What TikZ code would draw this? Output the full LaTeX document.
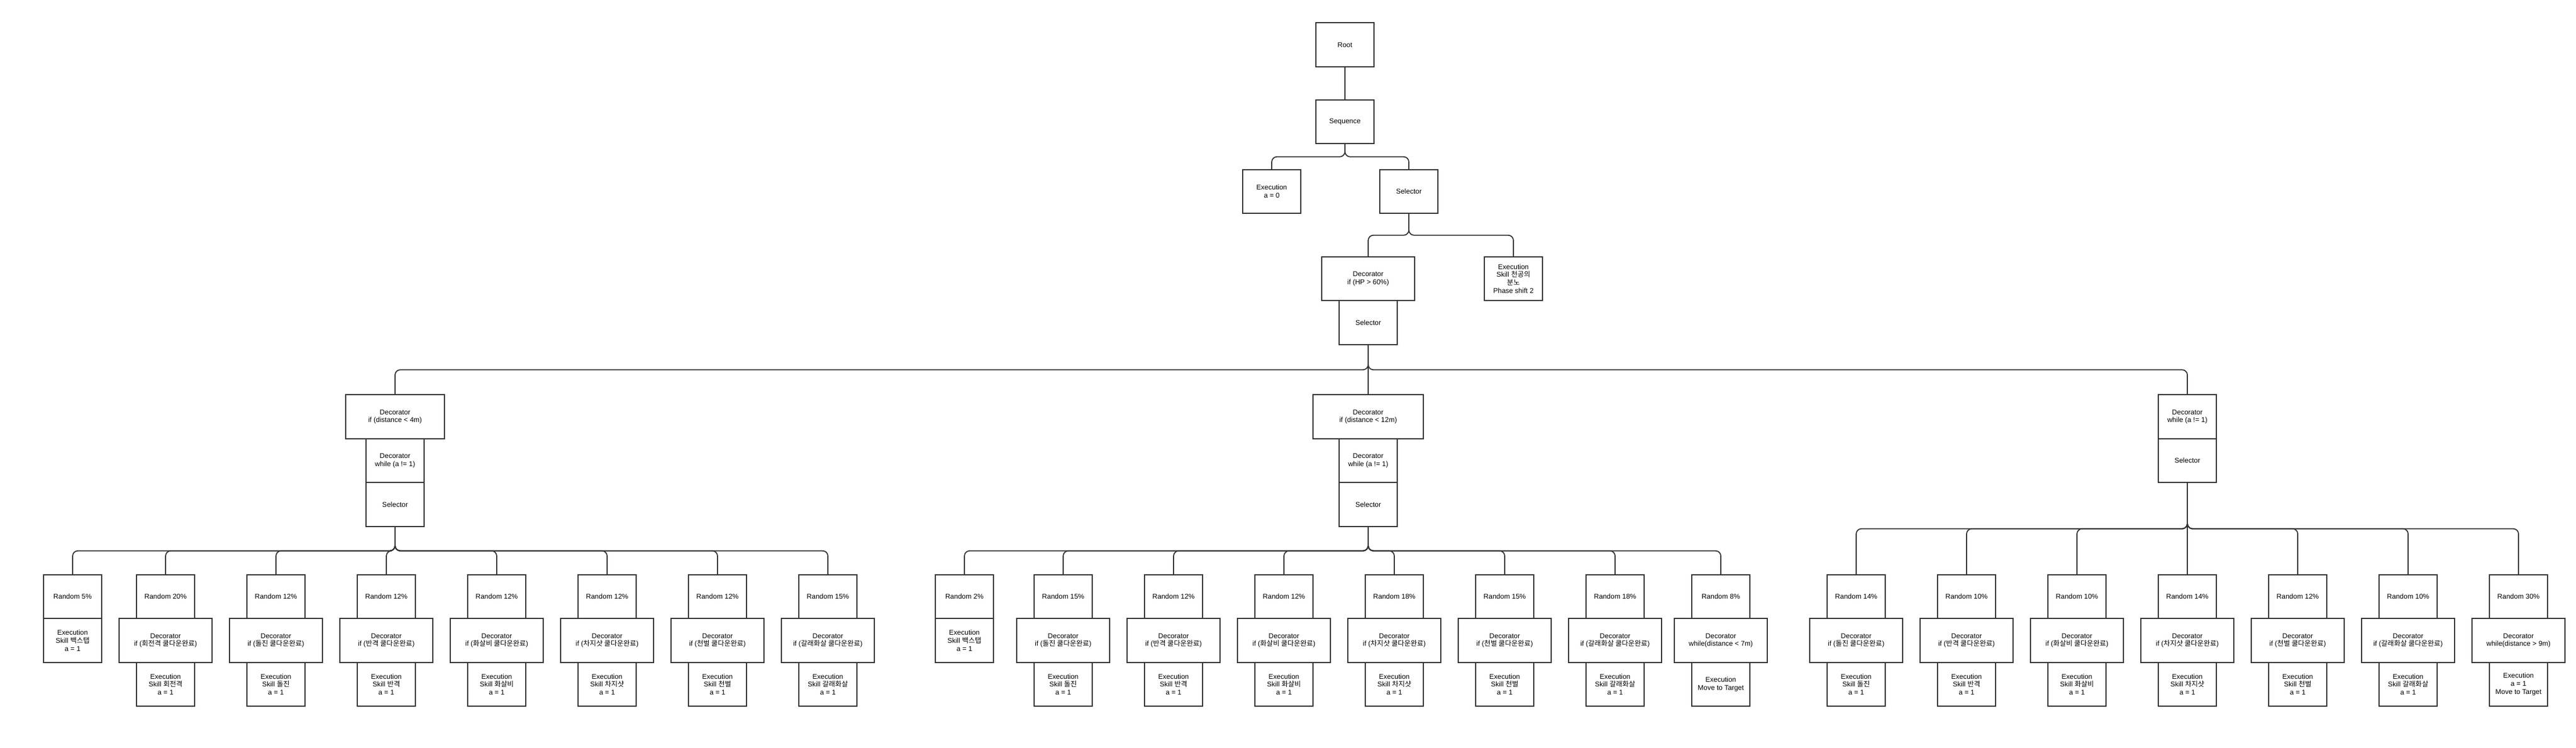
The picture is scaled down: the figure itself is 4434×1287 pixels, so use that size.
\documentclass[tikz,border=0pt]{standalone}
\usepackage{fontspec}
\setmainfont{Liberation Sans}
\newfontfamily\kr{Noto Sans CJK KR}
\usetikzlibrary{positioning}

\tikzset{
	bnode/.style={draw=black!80, fill=white, line width=1.8pt, outer sep=0pt, inner sep=0pt,
		minimum width=100pt, minimum height=75.5pt, align=center, font=\fontsize{12}{13.7}\selectfont},
	wnode/.style={bnode, minimum width=160pt},
	conn/.style={draw=black!80, line width=1.8pt, rounded corners=9pt},
}

\begin{document}
\begin{tikzpicture}[x=1pt,y=-1pt]
	\useasboundingbox (0,0) rectangle (4434,1287);
	% top of the tree
	\node[bnode] (root) at (2315,77) {Root};
	\node[bnode] (seq) at (2315,209.5) {Sequence};
	\node[bnode] (exe0) at (2189,329.5) {Execution\\a = 0};
	\node[bnode] (sel) at (2425,329.5) {Selector};
	\node[wnode] (dhp) at (2355,479.5) {Decorator\\if (HP > 60\%)};
	\node[bnode] (exeph) at (2605,479.5) {Execution\\Skill {\kr 천공의}\\{\kr 분노}\\Phase shift 2};
	\node[bnode, below=0pt of dhp] (sel2) {Selector};

	% distance branches
	\node[bnode, minimum width=170pt] (decL) at (680,717) {Decorator\\if (distance < 4m)};
	\node[bnode, below=0pt of decL] (whileL) {Decorator\\while (a != 1)};
	\node[bnode, below=0pt of whileL] (selL) {Selector};
	\node[bnode, minimum width=190pt] (decM) at (2355,717) {Decorator\\if (distance < 12m)};
	\node[bnode, below=0pt of decM] (whileM) {Decorator\\while (a != 1)};
	\node[bnode, below=0pt of whileM] (selM) {Selector};
	\node[bnode] (decR) at (3765,717) {Decorator\\while (a != 1)};
	\node[bnode, below=0pt of decR] (selR) {Selector};

	% left: distance < 4m
	\node[bnode] (lr1) at (125,1026.5) {Random 5\%};
	\node[bnode, below=0pt of lr1] (le1) {Execution\\Skill {\kr 백스탭}\\a = 1};
	\node[bnode] (lr2) at (285,1026.5) {Random 20\%};
	\node[wnode, below=0pt of lr2] (ld2) {Decorator\\if ({\kr 회전격 쿨다운완료})};
	\node[bnode, below=0pt of ld2] (le2) {Execution\\Skill {\kr 회전격}\\a = 1};
	\node[bnode] (lr3) at (475,1026.5) {Random 12\%};
	\node[wnode, below=0pt of lr3] (ld3) {Decorator\\if ({\kr 돌진 쿨다운완료})};
	\node[bnode, below=0pt of ld3] (le3) {Execution\\Skill {\kr 돌진}\\a = 1};
	\node[bnode] (lr4) at (665,1026.5) {Random 12\%};
	\node[wnode, below=0pt of lr4] (ld4) {Decorator\\if ({\kr 반격 쿨다운완료})};
	\node[bnode, below=0pt of ld4] (le4) {Execution\\Skill {\kr 반격}\\a = 1};
	\node[bnode] (lr5) at (855,1026.5) {Random 12\%};
	\node[wnode, below=0pt of lr5] (ld5) {Decorator\\if ({\kr 화살비 쿨다운완료})};
	\node[bnode, below=0pt of ld5] (le5) {Execution\\Skill {\kr 화살비}\\a = 1};
	\node[bnode] (lr6) at (1045,1026.5) {Random 12\%};
	\node[wnode, below=0pt of lr6] (ld6) {Decorator\\if ({\kr 차지샷 쿨다운완료})};
	\node[bnode, below=0pt of ld6] (le6) {Execution\\Skill {\kr 차지샷}\\a = 1};
	\node[bnode] (lr7) at (1235,1026.5) {Random 12\%};
	\node[wnode, below=0pt of lr7] (ld7) {Decorator\\if ({\kr 천벌 쿨다운완료})};
	\node[bnode, below=0pt of ld7] (le7) {Execution\\Skill {\kr 천벌}\\a = 1};
	\node[bnode] (lr8) at (1425,1026.5) {Random 15\%};
	\node[wnode, below=0pt of lr8] (ld8) {Decorator\\if ({\kr 갈래화살 쿨다운완료})};
	\node[bnode, below=0pt of ld8] (le8) {Execution\\Skill {\kr 갈래화살}\\a = 1};

	% middle: distance < 12m
	\node[bnode] (mr1) at (1660,1026.5) {Random 2\%};
	\node[bnode, below=0pt of mr1] (me1) {Execution\\Skill {\kr 백스탭}\\a = 1};
	\node[bnode] (mr2) at (1830,1026.5) {Random 15\%};
	\node[wnode, below=0pt of mr2] (md2) {Decorator\\if ({\kr 돌진 쿨다운완료})};
	\node[bnode, below=0pt of md2] (me2) {Execution\\Skill {\kr 돌진}\\a = 1};
	\node[bnode] (mr3) at (2020,1026.5) {Random 12\%};
	\node[wnode, below=0pt of mr3] (md3) {Decorator\\if ({\kr 반격 쿨다운완료})};
	\node[bnode, below=0pt of md3] (me3) {Execution\\Skill {\kr 반격}\\a = 1};
	\node[bnode] (mr4) at (2210,1026.5) {Random 12\%};
	\node[wnode, below=0pt of mr4] (md4) {Decorator\\if ({\kr 화살비 쿨다운완료})};
	\node[bnode, below=0pt of md4] (me4) {Execution\\Skill {\kr 화살비}\\a = 1};
	\node[bnode] (mr5) at (2400,1026.5) {Random 18\%};
	\node[wnode, below=0pt of mr5] (md5) {Decorator\\if ({\kr 차지샷 쿨다운완료})};
	\node[bnode, below=0pt of md5] (me5) {Execution\\Skill {\kr 차지샷}\\a = 1};
	\node[bnode] (mr6) at (2590,1026.5) {Random 15\%};
	\node[wnode, below=0pt of mr6] (md6) {Decorator\\if ({\kr 천벌 쿨다운완료})};
	\node[bnode, below=0pt of md6] (me6) {Execution\\Skill {\kr 천벌}\\a = 1};
	\node[bnode] (mr7) at (2780,1026.5) {Random 18\%};
	\node[wnode, below=0pt of mr7] (md7) {Decorator\\if ({\kr 갈래화살 쿨다운완료})};
	\node[bnode, below=0pt of md7] (me7) {Execution\\Skill {\kr 갈래화살}\\a = 1};
	\node[bnode] (mr8) at (2962,1026.5) {Random 8\%};
	\node[wnode, below=0pt of mr8] (md8) {Decorator\\while(distance < 7m)};
	\node[bnode, below=0pt of md8] (me8) {Execution\\Move to Target};

	% right: otherwise
	\node[bnode] (rr1) at (3195,1026.5) {Random 14\%};
	\node[wnode, below=0pt of rr1] (rd1) {Decorator\\if ({\kr 돌진 쿨다운완료})};
	\node[bnode, below=0pt of rd1] (re1) {Execution\\Skill {\kr 돌진}\\a = 1};
	\node[bnode] (rr2) at (3385,1026.5) {Random 10\%};
	\node[wnode, below=0pt of rr2] (rd2) {Decorator\\if ({\kr 반격 쿨다운완료})};
	\node[bnode, below=0pt of rd2] (re2) {Execution\\Skill {\kr 반격}\\a = 1};
	\node[bnode] (rr3) at (3575,1026.5) {Random 10\%};
	\node[wnode, below=0pt of rr3] (rd3) {Decorator\\if ({\kr 화살비 쿨다운완료})};
	\node[bnode, below=0pt of rd3] (re3) {Execution\\Skill {\kr 화살비}\\a = 1};
	\node[bnode] (rr4) at (3765,1026.5) {Random 14\%};
	\node[wnode, below=0pt of rr4] (rd4) {Decorator\\if ({\kr 차지샷 쿨다운완료})};
	\node[bnode, below=0pt of rd4] (re4) {Execution\\Skill {\kr 차지샷}\\a = 1};
	\node[bnode] (rr5) at (3955,1026.5) {Random 12\%};
	\node[wnode, below=0pt of rr5] (rd5) {Decorator\\if ({\kr 천벌 쿨다운완료})};
	\node[bnode, below=0pt of rd5] (re5) {Execution\\Skill {\kr 천벌}\\a = 1};
	\node[bnode] (rr6) at (4145,1026.5) {Random 10\%};
	\node[wnode, below=0pt of rr6] (rd6) {Decorator\\if ({\kr 갈래화살 쿨다운완료})};
	\node[bnode, below=0pt of rd6] (re6) {Execution\\Skill {\kr 갈래화살}\\a = 1};
	\node[bnode] (rr7) at (4335,1026.5) {Random 30\%};
	\node[wnode, below=0pt of rr7] (rd7) {Decorator\\while(distance > 9m)};
	\node[bnode, below=0pt of rd7] (re7) {Execution\\a = 1\\Move to Target};

	% links
	\draw[conn] (root) -- (seq);
	\draw[conn] (seq.south) -- ++(0,22.5) -| (exe0.north);
	\draw[conn] (seq.south) -- ++(0,22.5) -| (sel.north);
	\draw[conn] (sel.south) -- ++(0,37.5) -| (dhp.north);
	\draw[conn] (sel.south) -- ++(0,37.5) -| (exeph.north);
	\draw[conn] (sel2.south) -- ++(0,43.5) -| (decL.north);
	\draw[conn] (sel2) -- (decM);
	\draw[conn] (sel2.south) -- ++(0,43.5) -| (decR.north);
	\foreach \c in {lr1,lr2,lr3,lr4,lr5,lr6,lr7,lr8}
		\draw[conn] (selL.south) -- ++(0,42) -| (\c.north);
	\foreach \c in {mr1,mr2,mr3,mr4,mr5,mr6,mr7,mr8}
		\draw[conn] (selM.south) -- ++(0,42) -| (\c.north);
	\foreach \c in {rr1,rr2,rr3,rr5,rr6,rr7}
		\draw[conn] (selR.south) -- ++(0,79.5) -| (\c.north);
	\draw[conn] (selR) -- (rr4);
\end{tikzpicture}
\end{document}
